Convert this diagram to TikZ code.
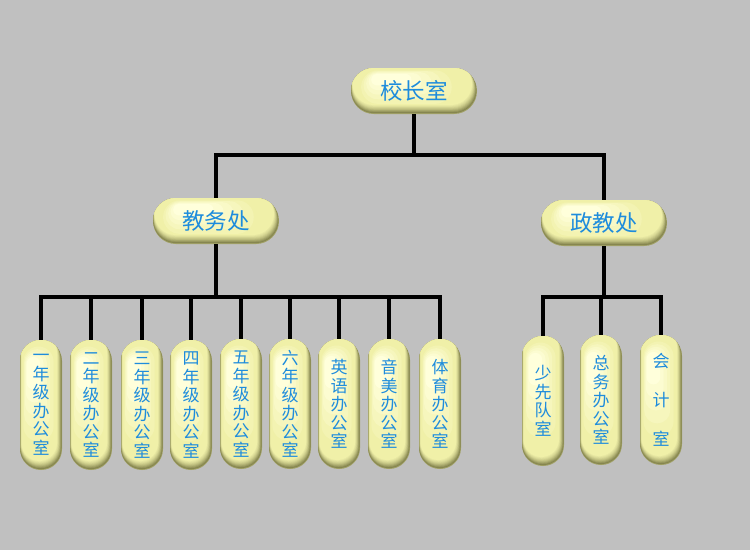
\documentclass[tikz,border=0pt]{standalone}
\usepackage{fontspec}
\usetikzlibrary{calc}
\newfontfamily\cjk{Noto Sans CJK SC}
\definecolor{bggray}{HTML}{C0C0C0}
\definecolor{txtblue}{RGB}{30,140,220}
\definecolor{pillrim}{rgb}{0.50,0.50,0.29}
\definecolor{pillbase}{rgb}{0.94,0.94,0.66}
\definecolor{pillhl}{rgb}{1,1,0.86}
\newcommand\PillAbs[5]{%
  \fill[#1] let \p1=(path picture bounding box.north west), \p2=(path picture bounding box.south east),
    \n1={min(\x2-\x1-#2pt-#4pt,\y1-\y2-#3pt-#5pt)/2} in
    [rounded corners=\n1] (\x1+#2pt,\y1-#3pt) rectangle (\x2-#4pt,\y2+#5pt);}
\newcommand\PillRel[5]{%
  \fill[#1] let \p1=(path picture bounding box.north west), \p2=(path picture bounding box.south east),
    \n2={\x2-\x1}, \n3={\y1-\y2},
    \n1={min(\n2*(1-#2-#4),\n3*(1-#3-#5))/2} in
    [rounded corners=\n1] (\x1+#2*\n2,\y1-#3*\n3) rectangle (\x2-#4*\n2,\y2+#5*\n3);}
\tikzset{
  pill/.style={fill=pillrim!70!pillbase, draw=none, inner sep=0pt, text=txtblue,
    path picture={
      \PillAbs{pillrim!95!pillbase}{0.15}{-0.5}{0.5}{0.9}
      \PillAbs{pillrim!82!pillbase}{0.3}{-1.0}{1.0}{1.8}
      \PillAbs{pillrim!68!pillbase}{0.45}{-1.5}{1.5}{2.7}
      \PillAbs{pillrim!55!pillbase}{0.6}{-2.0}{2.0}{3.6}
      \PillAbs{pillrim!43!pillbase}{0.75}{-2.5}{2.5}{4.5}
      \PillAbs{pillrim!32!pillbase}{0.9}{-3.0}{3.0}{5.4}
      \PillAbs{pillrim!22!pillbase}{1.05}{-3.5}{3.5}{6.3}
      \PillAbs{pillrim!14!pillbase}{1.2}{-4.0}{4.0}{7.2}
      \PillAbs{pillrim!7!pillbase}{1.35}{-4.5}{4.5}{8.1}
      \PillAbs{pillbase}{1.5}{-5.0}{5.0}{9.0}
      \PillRel{pillhl!20!pillbase}{0.08}{0.05}{0.20}{0.22}
      \PillRel{pillhl!40!pillbase}{0.10}{0.07}{0.28}{0.32}
      \PillRel{pillhl!60!pillbase}{0.12}{0.09}{0.36}{0.42}
      \PillRel{pillhl!80!pillbase}{0.14}{0.11}{0.44}{0.52}
      \PillRel{pillhl}{0.16}{0.13}{0.52}{0.62}
    }},
  bigpill/.style={pill, minimum width=126pt, minimum height=46pt, rounded corners=22.9pt, font=\cjk\fontsize{22.5}{24}\selectfont},
  smallpill/.style={pill, minimum width=42pt, minimum height=130pt, rounded corners=20.9pt, align=center, font=\cjk\fontsize{17}{18.5}\selectfont},
  conn/.style={line width=3.5pt, draw=black}
}
\begin{document}
\begin{tikzpicture}[x=1pt,y=-1pt]
\fill[bggray] (0,0) rectangle (750,550);
\useasboundingbox (0,0) rectangle (750,550);
% level 1 and 2
\node[bigpill] (top) at (414,91) {校长室};
\node[bigpill] (jw) at (216,221) {教务处};
\node[bigpill] (zj) at (604,223) {政教处};
% level 3 left
\node[smallpill] (a1) at (41,405) {一\\年\\级\\办\\公\\室};
\node[smallpill] (a2) at (91,405) {二\\年\\级\\办\\公\\室};
\node[smallpill] (a3) at (142,405) {三\\年\\级\\办\\公\\室};
\node[smallpill] (a4) at (191,405) {四\\年\\级\\办\\公\\室};
\node[smallpill] (a5) at (241,404) {五\\年\\级\\办\\公\\室};
\node[smallpill] (a6) at (290,404) {六\\年\\级\\办\\公\\室};
\node[smallpill] (a7) at (339,404) {英\\语\\办\\公\\室};
\node[smallpill] (a8) at (389,404) {音\\美\\办\\公\\室};
\node[smallpill] (a9) at (440,404) {体\\育\\办\\公\\室};
% level 3 right
\node[smallpill] (b1) at (543,401) {少\\先\\队\\室};
\node[smallpill] (b2) at (601,400) {总\\务\\办\\公\\室};
\node[smallpill, font=\cjk\fontsize{17}{39}\selectfont] (b3) at (661,400) {会\\计\\室};
% bar coordinates
\coordinate (bar1) at (0,155);
\coordinate (bar2) at (0,297);
% connectors level 1-2
\draw[conn] (top.south) -- (top.south |- bar1);
\draw[conn] (jw.north) -- (jw.north |- bar1) -| (zj.north);
% connectors left group
\draw[conn] (jw.south) -- (jw.south |- bar2);
\draw[conn] (a1.north) -- (a1.north |- bar2) -| (a9.north);
\foreach \n in {a2,a3,a4,a5,a6,a7,a8}{
  \draw[conn] (\n.north) -- (\n.north |- bar2);
}
% connectors right group
\draw[conn] (zj.south) -- (zj.south |- bar2);
\draw[conn] (b1.north) -- (b1.north |- bar2) -| (b3.north);
\draw[conn] (b2.north) -- (b2.north |- bar2);
\end{tikzpicture}
\end{document}
